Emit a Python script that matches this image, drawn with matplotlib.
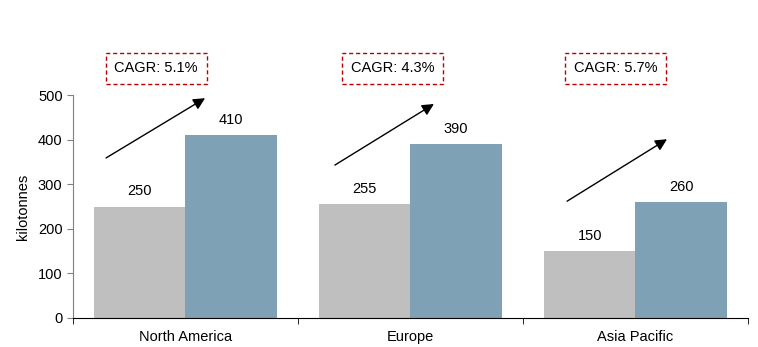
import matplotlib
matplotlib.use("Agg")
import matplotlib.pyplot as plt
import numpy as np

plt.rcParams['font.family'] = ['Liberation Sans', 'DejaVu Sans']

categories = ["North America", "Europe", "Asia Pacific"]
values_before = [250, 255, 150]
values_after = [410, 390, 260]
cagr_labels = ["CAGR: 5.1%", "CAGR: 4.3%", "CAGR: 5.7%"]

color_before = "#BFBFBF"
color_after = "#7FA1B6"

# arrow layout (offset from category centre in x, absolute y)
arrow_x0 = [-0.353, -0.336, -0.304]
arrow_x1 = [0.087, 0.104, 0.140]
arrow_y0 = [359, 343, 262]
arrow_y1 = [493, 480, 401]
box_dx = [-0.131, -0.078, -0.087]

fig = plt.figure(figsize=(7.58, 3.47), dpi=100)
ax = fig.add_axes([0.0963, 0.0836, 0.8905, 0.6424])

x = np.arange(len(categories))
w = 0.405
ax.bar(x - w / 2, values_before, width=w, color=color_before)
ax.bar(x + w / 2, values_after, width=w, color=color_after)

for i in range(len(categories)):
    ax.annotate(str(values_before[i]), (x[i] - w / 2, values_before[i]),
                xytext=(0, 6), textcoords="offset points", ha="center", va="bottom", fontsize=10.5)
    ax.annotate(str(values_after[i]), (x[i] + w / 2, values_after[i]),
                xytext=(0, 6), textcoords="offset points", ha="center", va="bottom", fontsize=10.5)
    ax.annotate("", xy=(x[i] + arrow_x1[i], arrow_y1[i]), xytext=(x[i] + arrow_x0[i], arrow_y0[i]),
                arrowprops=dict(arrowstyle="-|>,head_length=0.7,head_width=0.35", color="black", lw=1.0,
                                shrinkA=0, shrinkB=0),
                annotation_clip=False)
    ax.text(x[i] + box_dx[i], 560, cagr_labels[i], ha="center", va="center", fontsize=10.5,
            bbox=dict(boxstyle="square,pad=0.6", fc="white", ec="#C00000", ls=(0, (3, 2)), lw=1.0),
            clip_on=False)

ax.set_xlim(-0.5, 2.5)
ax.set_ylim(0, 500)
ax.set_yticks([0, 100, 200, 300, 400, 500])
ax.set_ylabel("kilotonnes", fontsize=10.5, labelpad=6)

ax.set_xticks(x)
ax.set_xticklabels(categories, fontsize=10.5)
ax.tick_params(axis="x", length=0, pad=9)
ax.set_xticks([-0.5, 0.5, 1.5, 2.5], minor=True)
ax.tick_params(axis="x", which="minor", length=4, direction="out", color="black")
ax.tick_params(axis="y", labelsize=10.5, length=4, color="#808080")

for s in ["top", "right"]:
    ax.spines[s].set_visible(False)
ax.spines["left"].set_color("#808080")
ax.spines["bottom"].set_color("black")

fig.savefig("out.png", dpi=100)
